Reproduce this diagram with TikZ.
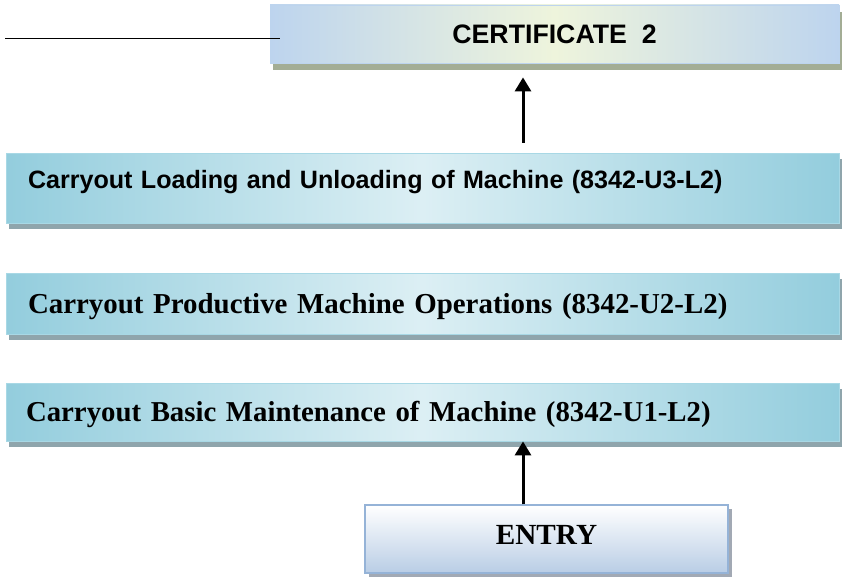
\documentclass[tikz,border=0pt]{standalone}
\usepackage{fontspec}
\setmainfont{Liberation Serif}
\newfontfamily\arialf{Liberation Sans}
\usetikzlibrary{arrows.meta,shadows}
\definecolor{certblue}{HTML}{BDD4EE}
\definecolor{certmid}{HTML}{EEF4DC}
\definecolor{certshadow}{HTML}{A3AD95}
\definecolor{tealc}{HTML}{93CDDD}
\definecolor{tealmid}{HTML}{DCEFF4}
\definecolor{tealline}{HTML}{A8D8E5}
\definecolor{tealshadow}{HTML}{8FA5AC}
\definecolor{entrybot}{HTML}{B9CDE5}
\definecolor{entryline}{HTML}{95B3D7}
\definecolor{entryshadow}{HTML}{A2A9B4}
\tikzset{
  unitbox/.style={draw=tealline, line width=0.8pt, left color=tealc, right color=tealc, middle color=tealmid,
    minimum width=833pt, inner xsep=22pt, inner ysep=0pt, text width=789pt, align=left,
    drop shadow={shadow xshift=3pt, shadow yshift=-6pt, fill=tealshadow, opacity=1}},
  serifunit/.style={unitbox, font=\fontsize{28.9pt}{30pt}\selectfont\bfseries, text height=19.1pt, text depth=0pt},
  certbox/.style={draw=certblue, line width=0.8pt, left color=certblue, right color=certblue, middle color=certmid,
    minimum width=569pt, minimum height=58pt, inner sep=0pt,
    font=\arialf\fontsize{26.7pt}{28pt}\selectfont\bfseries, text height=19.1pt, text depth=0pt,
    drop shadow={shadow xshift=3pt, shadow yshift=-7pt, fill=certshadow, opacity=1}},
  entrybox/.style={draw=entryline, line width=1.2pt, top color=white, bottom color=entrybot,
    minimum width=363pt, minimum height=68pt, inner sep=0pt,
    font=\fontsize{29.2pt}{30pt}\selectfont\bfseries, text height=19.3pt, text depth=8pt,
    drop shadow={shadow xshift=4pt, shadow yshift=-4pt, fill=entryshadow, opacity=1}},
  uparrow/.style={line width=3pt, -{Triangle[width=16pt,length=14pt]}},
}
\begin{document}
\begin{tikzpicture}[x=1pt,y=-1pt]
\useasboundingbox (0,0) rectangle (842,578);
\node[certbox] (cert) at (554.5,34) {CERTIFICATE\ \ 2};
\node[unitbox, font=\arialf\fontsize{25.1pt}{27pt}\selectfont\bfseries, text height=18pt, text depth=17pt, minimum height=70pt] (u3) at (422.5,188) {Carryout Loading and Unloading of Machine (8342-U3-L2)};
\node[serifunit, minimum height=61pt] (u2) at (422.5,303.5) {Carryout Productive Machine Operations (8342-U2-L2)};
\node[serifunit, minimum height=58pt, inner xsep=20pt, text width=793pt, font=\fontsize{28.8pt}{30pt}\selectfont\bfseries] (u1) at (422.5,412) {Carryout Basic Maintenance of Machine (8342-U1-L2)};
\node[entrybox] (entry) at (546.5,539) {ENTRY};
\coordinate (ax) at (523,0);
\draw[uparrow, shorten <=10pt, shorten >=14pt] (u3.north -| ax) -- (cert.south -| ax);
\draw[uparrow] (entry.north -| ax) -- (u1.south -| ax);
\coordinate (l0) at (5,39);
\coordinate (l1) at (280,39);
\draw[line width=1pt] (l0) -- (l1);
\end{tikzpicture}
\end{document}
